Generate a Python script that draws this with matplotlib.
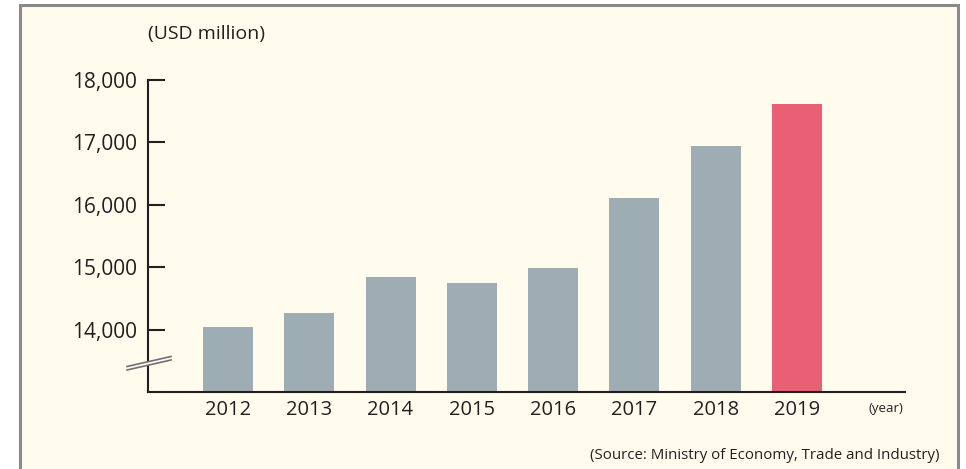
import matplotlib
matplotlib.use("Agg")
import matplotlib.pyplot as plt
from matplotlib.patches import Rectangle, Polygon

years = ["2012", "2013", "2014", "2015", "2016", "2017", "2018", "2019"]
values = [14045, 14265, 14845, 14750, 14990, 16105, 16940, 17610]
yticks = [14000, 15000, 16000, 17000, 18000]
ytick_labels = ["14,000", "15,000", "16,000", "17,000", "18,000"]

plt.rcParams['font.family'] = ['Open Sans', 'DejaVu Sans']
ink = "#231f20"
bg = "#fffcee"
grey_bar = "#9eacb3"
red_bar = "#e96074"

fig = plt.figure(figsize=(9.66, 4.69), dpi=100)
fig.patch.set_facecolor("white")
# frame
frame = Rectangle((20/966, -0.02), 938/966, 1 - 5/469 + 0.02, transform=fig.transFigure,
                  facecolor=bg, edgecolor="#8a8a8a", linewidth=2.2, zorder=-10)
fig.add_artist(frame)

ax = fig.add_axes([148/966, 1 - 392/469, (905 - 148)/966, (392 - 80)/469])
ax.set_zorder(5)
ax.set_facecolor("none")
x = list(range(len(years)))
colors = [grey_bar] * (len(years) - 1) + [red_bar]
ax.bar(x, values, width=0.615, color=colors, zorder=2)
ax.set_ylim(13000, 18000)
ax.set_xlim(-0.984, 8.33)
ax.set_yticks(yticks)
ax.set_yticklabels(ytick_labels)
ax.set_xticks(x)
ax.set_xticklabels(years)
ax.tick_params(axis="y", direction="in", length=12.5, width=1.5, color=ink,
               labelsize=15, labelcolor=ink, pad=8)
ax.tick_params(axis="x", length=0, labelsize=14.5, labelcolor=ink, pad=6)
for s in ["top", "right"]:
    ax.spines[s].set_visible(False)
for s in ["left", "bottom"]:
    ax.spines[s].set_color(ink)
    ax.spines[s].set_linewidth(1.5)

# axis break marks
bx0, bx1 = -21/757, 23/757
gap = 3.5/312
ya0, ya1 = 22/312, 32/312
poly = Polygon([(bx0, ya0), (bx1, ya1), (bx1, ya1 + gap), (bx0, ya0 + gap)], closed=True,
               transform=ax.transAxes, facecolor=bg, edgecolor="none", clip_on=False, zorder=5)
ax.add_patch(poly)
ax.plot([bx0, bx1], [ya0, ya1], transform=ax.transAxes, color="#707070", lw=1.2, clip_on=False, zorder=6)
ax.plot([bx0, bx1], [ya0 + gap, ya1 + gap], transform=ax.transAxes, color="#707070", lw=1.2, clip_on=False, zorder=6)

fig.text(206/966, 1 - 34/469, "(USD million)", ha="center", va="center", fontsize=14, color=ink)
fig.text(886/966, 1 - 408/469, "(year)", ha="center", va="center", fontsize=9.5, color=ink)
fig.text(940/966, 1 - 455/469, "(Source: Ministry of Economy, Trade and Industry)", ha="right", va="center",
         fontsize=10.8, color=ink)

fig.savefig("out.png", dpi=100, facecolor=fig.get_facecolor())
